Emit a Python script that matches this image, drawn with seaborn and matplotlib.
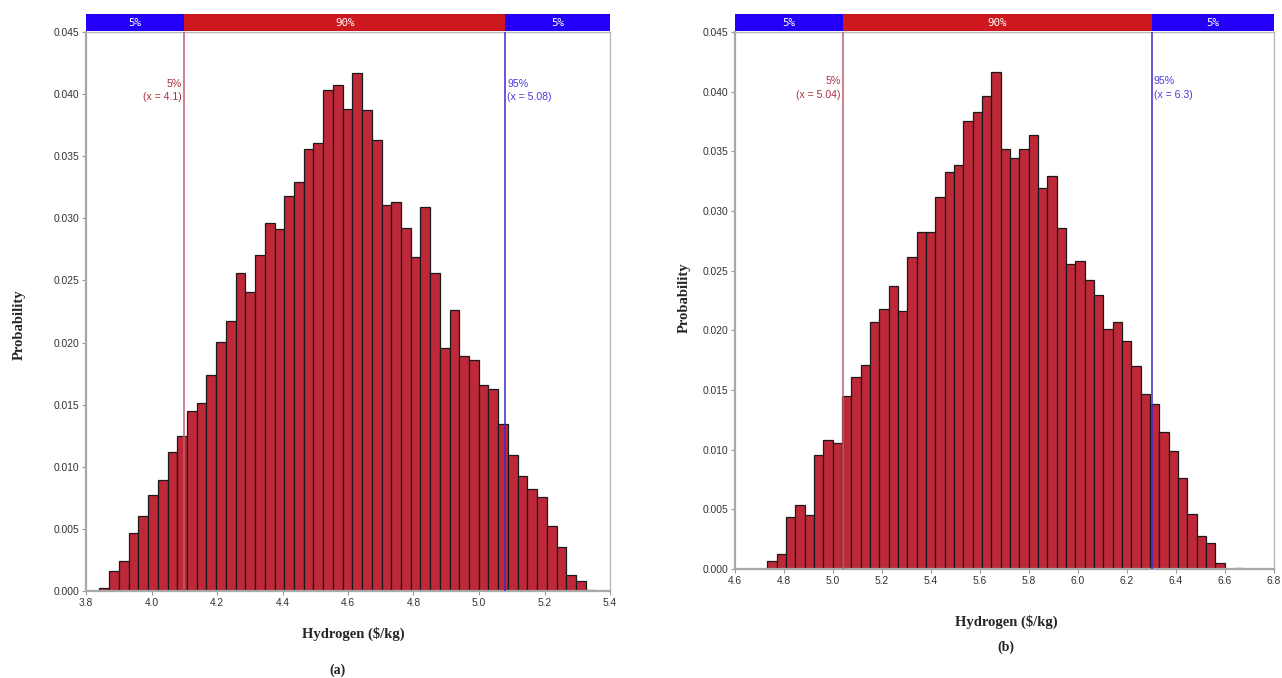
import numpy as np
import pandas as pd
import matplotlib
matplotlib.use("Agg")
import matplotlib.pyplot as plt
import seaborn as sns

# ---- data -------------------------------------------------------------
# (a) hydrogen cost distribution
a_bin_start = 3.841
a_bin_width = 0.0297
a_prob = [0.00028, 0.00161, 0.00239, 0.00467, 0.0060, 0.0077, 0.00897, 0.01117,
          0.0125, 0.01453, 0.01514, 0.01736, 0.02006, 0.02172, 0.02556, 0.02403,
          0.02703, 0.02961, 0.02917, 0.03178, 0.03294, 0.03556, 0.03608, 0.04036,
          0.04072, 0.03878, 0.04167, 0.0387, 0.0363, 0.0311, 0.0313, 0.0292,
          0.0269, 0.0309, 0.0256, 0.0196, 0.0226, 0.0189, 0.0186, 0.0166,
          0.0163, 0.01347, 0.01092, 0.00925, 0.00825, 0.00756, 0.00525, 0.00358,
          0.00125, 0.00078, 0.0001]
a_p05, a_p95 = 4.1, 5.08
a_xlim = (3.8, 5.4)
a_xticks = [3.8, 4.0, 4.2, 4.4, 4.6, 4.8, 5.0, 5.2, 5.4]

# (b) hydrogen cost distribution
b_bin_start = 4.732
b_bin_width = 0.0381
b_prob = [0.00066, 0.00124, 0.00438, 0.00536, 0.00452, 0.00957, 0.01078, 0.01058,
          0.01447, 0.01608, 0.01712, 0.02066, 0.02176, 0.02375, 0.02164, 0.02617,
          0.02827, 0.02827, 0.03115, 0.03323, 0.03386, 0.03752, 0.0383, 0.0396,
          0.04164, 0.0352, 0.0344, 0.0352, 0.0364, 0.0319, 0.0329, 0.0286,
          0.0256, 0.0258, 0.0242, 0.0230, 0.0201, 0.0207, 0.0191, 0.0170,
          0.0147, 0.0138, 0.0115, 0.0099, 0.0076, 0.0046, 0.0028, 0.0022,
          0.0005, 0.0, 0.0001]
b_p05, b_p95 = 5.04, 6.3
b_xlim = (4.6, 6.8)
b_xticks = [4.6, 4.8, 5.0, 5.2, 5.4, 5.6, 5.8, 6.0, 6.2, 6.4, 6.6, 6.8]

y_ticks = [0.000, 0.005, 0.010, 0.015, 0.020, 0.025, 0.030, 0.035, 0.040, 0.045]
strip_labels = ["5%", "90%", "5%"]
x_label = "Hydrogen ($/kg)"
y_label = "Probability"

# ---- style ------------------------------------------------------------
sns.set_style("white")
plt.rcParams["font.family"] = ["Liberation Sans", "DejaVu Sans"]

BAR = "#BE2839"
STRIP_BLUE = "#2400F8"
STRIP_RED = "#CC181E"
LINE_LO = "#C0606E"
LINE_HI = "#3A2AD0"
TXT_LO = "#A8303F"
TXT_HI = "#4B3BD8"
SERIF = ["Liberation Serif", "DejaVu Serif"]

W, H = 1282, 678
fig = plt.figure(figsize=(W / 100, H / 100), dpi=100)


def px_axes(x0, y0, x1, y1):
    return fig.add_axes([x0 / W, 1 - y1 / H, (x1 - x0) / W, (y1 - y0) / H])


def panel(box, start, width, prob, p05, p95, xlim, xticks, ylab_xy, xlab_xy, tag, tag_xy):
    x0, y0, x1, y1 = box
    ax = px_axes(x0, y0, x1, y1)
    strip = px_axes(x0, y0 - 18, x1, y0 - 1)

    edges = start + width * np.arange(len(prob) + 1)
    df = pd.DataFrame({"x": (edges[:-1] + edges[1:]) / 2, "p": prob})
    sns.histplot(data=df, x="x", weights="p", bins=list(edges), ax=ax, color=BAR,
                 edgecolor="#1a1a1a", linewidth=0.9, alpha=1.0)

    span = xlim[1] - xlim[0]
    ax.set_xlim(*xlim)
    ax.set_ylim(0, 0.045)
    ax.set_xticks(xticks)
    ax.set_xticklabels([f"{t:.1f}" for t in xticks])
    ax.set_yticks(y_ticks)
    ax.set_yticklabels([f"{t:.3f}" for t in y_ticks])
    ax.set_xlabel("")
    ax.set_ylabel("")
    ax.tick_params(axis="both", labelsize=7.4, labelcolor="#333333", colors="#999999",
                   length=3, width=0.8, direction="out", pad=2,
                   bottom=True, left=True)
    for s in ("left", "bottom"):
        ax.spines[s].set_color("#A8A8A8")
        ax.spines[s].set_linewidth(1.6)
    for s in ("top", "right"):
        ax.spines[s].set_color("#B8B8B8")
        ax.spines[s].set_linewidth(1.0)

    ax.axvline(p05, color=LINE_LO, lw=1.1, zorder=5)
    ax.axvline(p95, color=LINE_HI, lw=1.1, zorder=5)
    ax.text(p05 - span * 0.004, 0.0403, f"5%\n(x = {p05:g})", ha="right", va="center",
            fontsize=7.6, color=TXT_LO, linespacing=1.4)
    ax.text(p95 + span * 0.004, 0.0403, f"95%\n(x = {p95:g})", ha="left",
            va="center", fontsize=7.6, color=TXT_HI, linespacing=1.4)

    # percentile strip above the plot
    strip.set_xlim(*xlim)
    strip.set_ylim(0, 1)
    strip.axvspan(xlim[0], p05, color=STRIP_BLUE, lw=0)
    strip.axvspan(p05, p95, color=STRIP_RED, lw=0)
    strip.axvspan(p95, xlim[1], color=STRIP_BLUE, lw=0)
    for (a, b), lab in zip([(xlim[0], p05), (p05, p95), (p95, xlim[1])], strip_labels):
        strip.text((a + b) / 2, 0.5, lab, ha="center", va="center", color="white",
                   fontsize=7.8, family=["DejaVu Sans Mono", "DejaVu Sans"])
    strip.set_xticks([])
    strip.set_yticks([])
    for s in strip.spines.values():
        s.set_visible(False)

    fig.text(ylab_xy[0] / W, 1 - ylab_xy[1] / H, y_label, rotation=90, ha="center",
             va="center", fontsize=10.5, fontweight="bold", family=SERIF)
    fig.text(xlab_xy[0] / W, 1 - xlab_xy[1] / H, x_label, ha="center", va="center",
             fontsize=10.5, fontweight="bold", family=SERIF)
    fig.text(tag_xy[0] / W, 1 - tag_xy[1] / H, tag, ha="center", va="center",
             fontsize=10, fontweight="bold", family=SERIF)


panel((86, 32, 610, 591), a_bin_start, a_bin_width, a_prob, a_p05, a_p95, a_xlim,
      a_xticks, (19, 325), (353, 634), "(a)", (338, 670))
panel((735, 32, 1274, 569), b_bin_start, b_bin_width, b_prob, b_p05, b_p95, b_xlim,
      b_xticks, (684, 298), (1006, 622), "(b)", (1006, 647))

fig.savefig("out.png", dpi=100, facecolor="white")
